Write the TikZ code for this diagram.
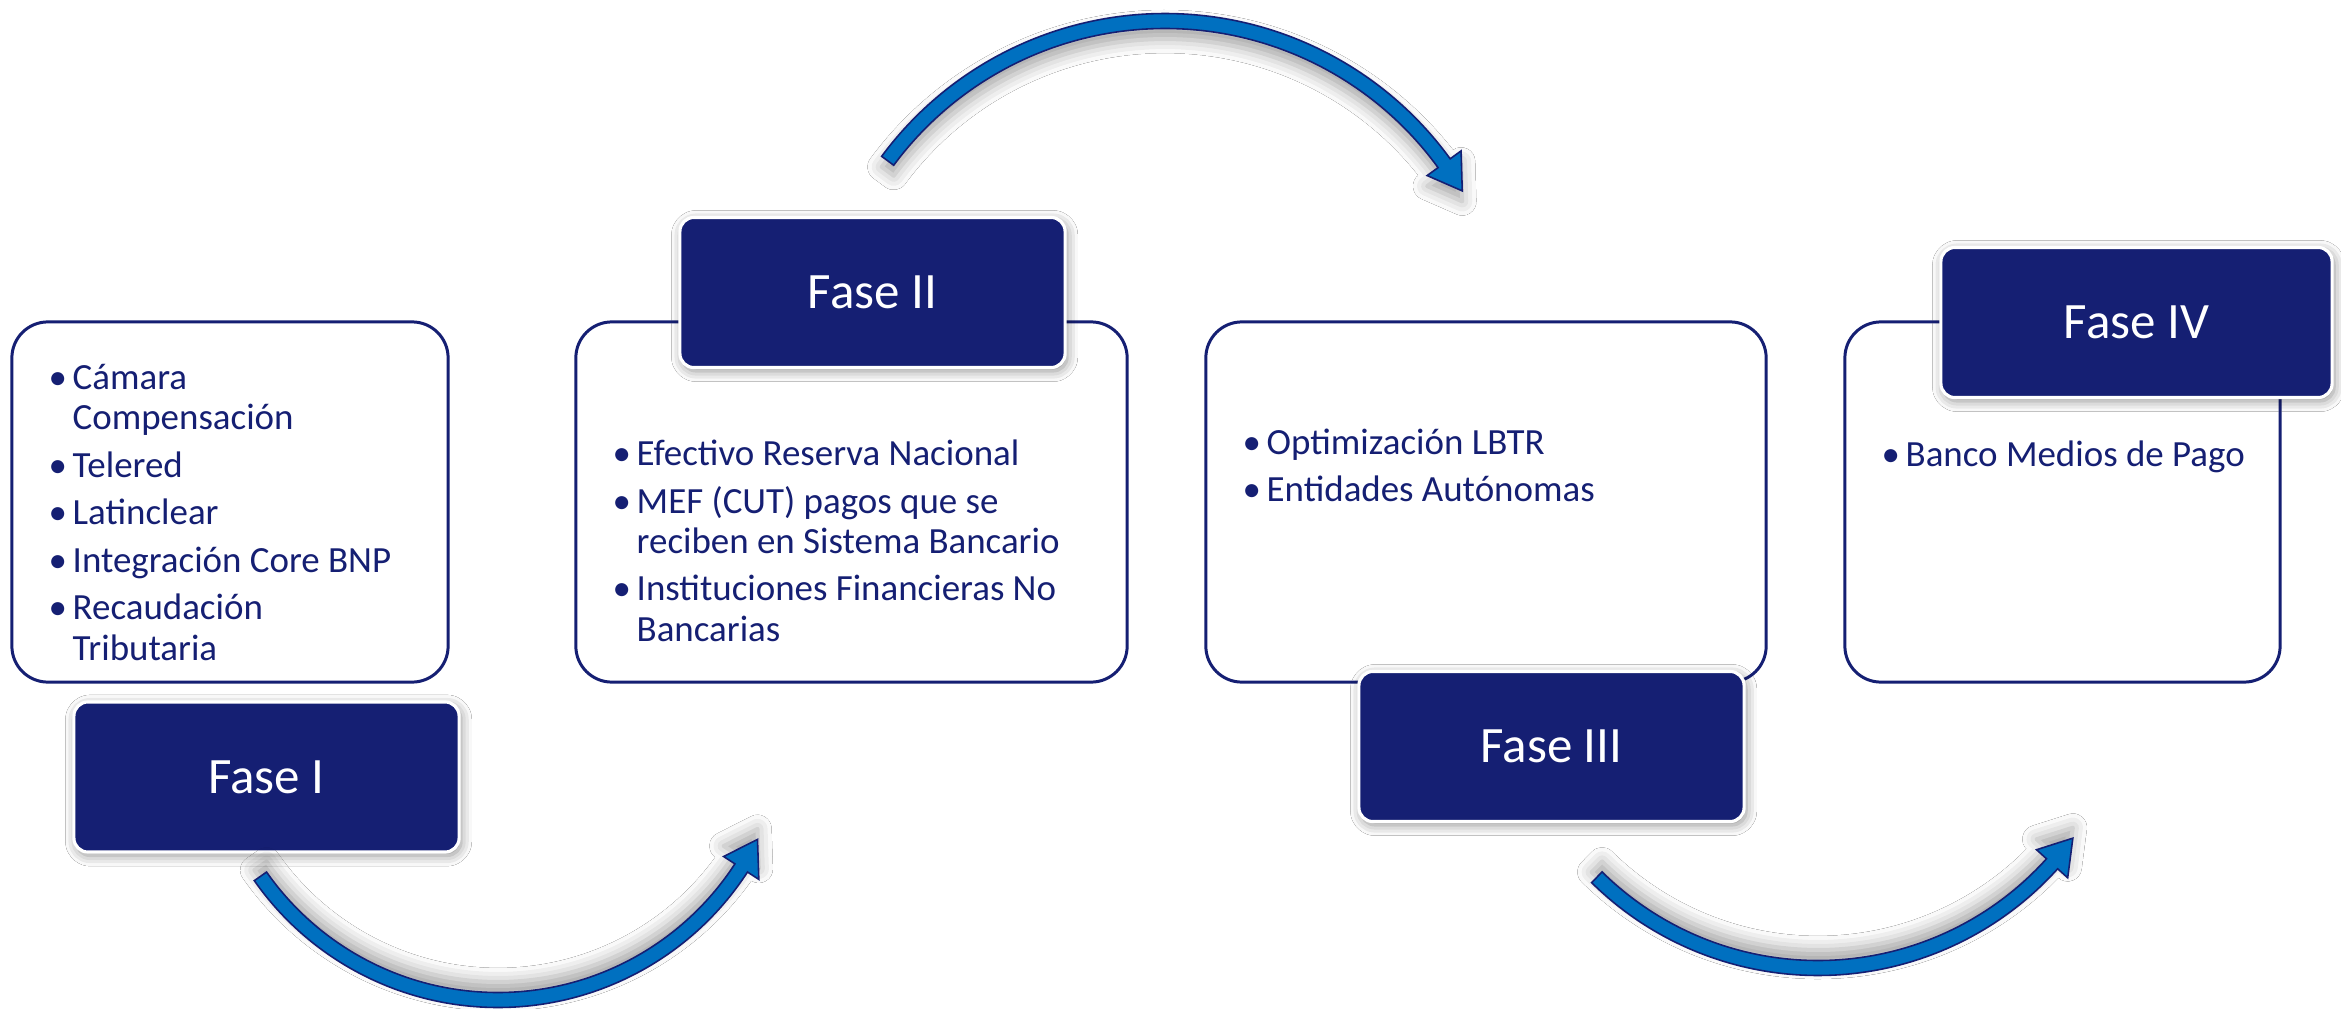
\documentclass[tikz,border=0pt]{standalone}
\usepackage{fontspec}
\setmainfont{Carlito}
\usetikzlibrary{shadows.blur}
\definecolor{navy}{RGB}{21,31,115}
\definecolor{arrowblue}{RGB}{0,112,192}

\newcommand{\curvarrow}[6]{%
  \pgfmathsetmacro\arRo{#2+7.5}%
  \pgfmathsetmacro\arRi{#2-7.5}%
  \pgfmathsetmacro\arHo{#2+21}%
  \pgfmathsetmacro\arHi{#2-21}%
  \begin{scope}[shift={(#1)}]
    \filldraw[arrowband, blur shadow={shadow xshift=0pt, shadow yshift=#6, shadow blur radius=4pt, shadow opacity=35}]
      (#3:\arRo) arc[start angle=#3, end angle=#4, radius=\arRo]
      -- (#4:\arHo) -- (#5:#2) -- (#4:\arHi) -- (#4:\arRi)
      arc[start angle=#4, end angle=#3, radius=\arRi] -- cycle;
  \end{scope}}

\begin{document}
\begin{tikzpicture}[x=0.01cm, y=-0.01cm,
  contentbox/.style={draw=navy, line width=0.85pt, fill=white, rounded corners=0.36cm,
    minimum width=#1, minimum height=3.6cm, inner sep=0pt},
  faselabel/.style={fill=navy, draw=white, line width=0.9pt, rounded corners=0.14cm,
    minimum width=3.85cm, minimum height=1.5cm, inner sep=0pt, text=white,
    font=\fontsize{14.5}{17}\selectfont,
    blur shadow={shadow xshift=0.6pt, shadow yshift=-1pt, shadow blur radius=3pt, shadow opacity=45}},
  bodytext/.style={anchor=base west, inner sep=0pt, text=navy, font=\fontsize{10.5}{12.6}\selectfont},
  arrowband/.style={fill=arrowblue, draw=navy, line width=0.45pt, line join=miter}
]
\useasboundingbox (0,0) rectangle (2341,1009);
\fill[white] (0,0) rectangle (2341,1009);

% content boxes
\node[contentbox=4.36cm] (b1) at (230,502) {};
\node[contentbox=5.51cm] (b2) at (851.5,502) {};
\node[contentbox=5.60cm] (b3) at (1486,502) {};
\node[contentbox=4.35cm] (b4) at (2062.5,502) {};

% box texts
\newcommand{\bul}{\makebox[0.24cm][l]{•}}
\newcommand{\cont}{\hspace*{0.24cm}}
\node[bodytext] (t1a) at (48,389) {\bul Cámara};
\node[bodytext] (t1b) at (48,429) {\cont Compensación};
\node[bodytext] (t1c) at (48,477) {\bul Telered};
\node[bodytext] (t1d) at (48,524) {\bul Latinclear};
\node[bodytext] (t1e) at (48,572) {\bul Integración Core BNP};
\node[bodytext] (t1f) at (48,619) {\bul Recaudación};
\node[bodytext] (t1g) at (48,660) {\cont Tributaria};

\node[bodytext] (t2a) at (612,465) {\bul Efectivo Reserva Nacional};
\node[bodytext] (t2b) at (612,513) {\bul MEF (CUT) pagos que se};
\node[bodytext] (t2c) at (612,553) {\cont reciben en Sistema Bancario};
\node[bodytext] (t2d) at (612,600) {\bul Instituciones Financieras No};
\node[bodytext] (t2e) at (612,641) {\cont Bancarias};

\node[bodytext] (t3a) at (1242,454) {\bul Optimización LBTR};
\node[bodytext] (t3b) at (1242,501) {\bul Entidades Autónomas};

\node[bodytext] (t4a) at (1881,466) {\bul Banco Medios de Pago};

% phase labels
\node[faselabel] (f1) at (266.5,777) {Fase I};
\node[faselabel] (f2) at (872.5,292.5) {Fase II};
\node[faselabel] (f3) at (1551.5,746.5) {Fase III};
\node[faselabel, minimum width=3.91cm] (f4) at (2136.5,322.5) {Fase IV};

% curved arrows
\coordinate (c1) at (498,710);
\coordinate (c2) at (1165,366);
\coordinate (c3) at (1818,653);
\curvarrow{c1}{290}{145}{33}{26.5}{3pt}
\curvarrow{c2}{345}{216.5}{324}{329.5}{-3pt}
\curvarrow{c3}{315}{134.6}{42}{36}{3pt}
\end{tikzpicture}
\end{document}
